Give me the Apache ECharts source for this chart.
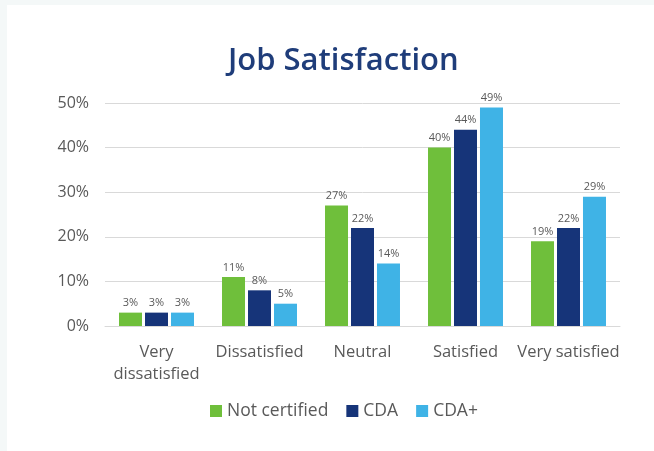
<!DOCTYPE html>
<html><head><meta charset="utf-8">
<script src="https://cdn.jsdelivr.net/npm/echarts@6/dist/echarts.min.js"></script>
<style>
html,body{margin:0;padding:0;background:#f4f8f8;}
#c{position:absolute;left:7px;top:5px;width:647px;height:446px;background:#fff;}
</style></head>
<body><div id="c"></div>
<script>
const categories = ['Very\ndissatisfied','Dissatisfied','Neutral','Satisfied','Very satisfied'];
const notCertified = [3, 11, 27, 40, 19];
const cda = [3, 8, 22, 44, 22];
const cdaPlus = [3, 5, 14, 49, 29];
const seriesNames = ['Not certified','CDA','CDA+'];
const colors = ['#6fbf3b','#163479','#3fb3e6'];

const chart = echarts.init(document.getElementById('c'));
const font = 'Open Sans';
function mk(name, data, color){
  return {name, type:'bar', data, barWidth:23, barGap:'13%', itemStyle:{color},
    label:{show:true, position:'top', formatter:'{c}%', color:'#595959', fontSize:11, fontFamily:font, distance:4}};
}
chart.setOption({
  backgroundColor:'#fff',
  animation:false,
  title:{text:'Job Satisfaction', left:216, top:36, textStyle:{fontFamily:font, fontSize:31, fontWeight:600, color:'#1f3d7a'}},
  grid:{left:98, right:34, top:98, bottom:125},
  legend:{bottom:26, left:198, itemWidth:12, itemHeight:12, itemGap:18, icon:'rect',
    textStyle:{fontFamily:font, fontSize:17.5, color:'#595959'}, data:seriesNames},
  xAxis:{type:'category', data:categories,
    axisLine:{lineStyle:{color:'#d9d9d9'}}, axisTick:{show:false},
    axisLabel:{fontFamily:font, fontSize:16.5, color:'#595959', margin:15, lineHeight:22, interval:0}},
  yAxis:{type:'value', min:0, max:50, interval:10,
    axisLabel:{formatter:'{value}%', fontFamily:font, fontSize:16, color:'#595959', margin:16},
    splitLine:{lineStyle:{color:'#d9d9d9'}}, axisLine:{show:false}, axisTick:{show:false}},
  series:[mk(seriesNames[0], notCertified, colors[0]), mk(seriesNames[1], cda, colors[1]), mk(seriesNames[2], cdaPlus, colors[2])]
});
</script></body></html>
